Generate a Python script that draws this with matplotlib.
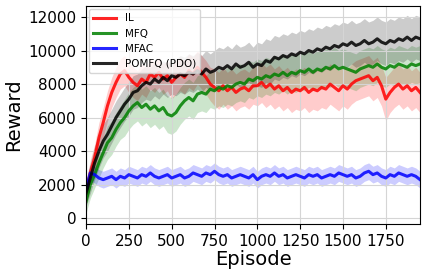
import matplotlib
matplotlib.use("Agg")
import matplotlib.pyplot as plt
import numpy as np

episodes = list(range(0, 1951, 25))

il_mean = [1500, 2700, 3600, 4800, 5700, 6700, 7500, 8100, 8600, 8800,
           8400, 8100, 7900, 8300, 8100, 8600, 8400, 8700, 8300, 8500,
           8100, 8400, 8600, 8400, 8800, 8600, 9000, 8700, 8400, 8000,
           7800, 7600, 7900, 7600, 7800, 7500, 7700, 7800, 7600, 7900,
           7900, 8100, 7800, 8000, 7700, 7900, 7600, 7800, 7500, 7700,
           7600, 7800, 7500, 7700, 7600, 7800, 7700, 8000, 7800, 7600,
           7900, 7700, 8000, 8200, 8300, 8400, 8500, 8200, 8400, 7900,
           7100, 7500, 7800, 8000, 7700, 7900, 7600, 7800, 7500]
il_std = [700, 800, 800, 900, 900, 900, 900, 900, 900, 900,
          900, 900, 900, 900, 900, 900, 900, 900, 900, 900,
          1000, 1000, 1000, 1000, 1000, 1000, 1000, 1000, 1000, 1000,
          1100, 1100, 1100, 1100, 1100, 1100, 1100, 1100, 1100, 1100,
          1200, 1200, 1200, 1200, 1200, 1200, 1200, 1200, 1200, 1200,
          1200, 1200, 1200, 1200, 1200, 1200, 1200, 1200, 1200, 1200,
          1200, 1200, 1200, 1200, 1200, 1200, 1200, 1200, 1200, 1200,
          1300, 1200, 1200, 1200, 1200, 1200, 1200, 1200, 1200]

mfq_mean = [1000, 2000, 2600, 3300, 3900, 4500, 4800, 5300, 5700, 6000,
            6400, 6700, 6900, 6600, 6800, 6500, 6700, 6400, 6600, 6200,
            6100, 6300, 6700, 7000, 7200, 7000, 7400, 7500, 7400, 7700,
            7600, 7800, 7700, 7900, 7800, 8000, 8100, 8000, 8300, 8200,
            8400, 8300, 8500, 8400, 8600, 8500, 8700, 8500, 8700, 8600,
            8800, 8700, 8900, 8700, 8900, 8800, 9000, 8900, 9100, 8900,
            9000, 8900, 8800, 8700, 8900, 9000, 9100, 9000, 9200, 9000,
            8900, 9100, 9000, 9200, 9100, 9000, 9200, 9100, 9200]
mfq_std = [700, 800, 800, 900, 900, 1000, 1000, 1000, 1000, 1100,
           1100, 1100, 1100, 1100, 1100, 1100, 1100, 1100, 1100, 1100,
           1100, 1100, 1100, 1100, 1100, 1100, 1100, 1100, 1100, 1100,
           1100, 1100, 1100, 1100, 1100, 1100, 1100, 1100, 1100, 1100,
           1100, 1100, 1100, 1100, 1100, 1100, 1100, 1100, 1100, 1100,
           1100, 1100, 1100, 1100, 1100, 1100, 1100, 1100, 1100, 1100,
           1100, 1100, 1100, 1100, 1100, 1100, 1100, 1100, 1100, 1100,
           1100, 1100, 1100, 1100, 1100, 1100, 1100, 1100, 1100]

mfac_mean = [1700, 2700, 2600, 2400, 2300, 2400, 2500, 2300, 2500, 2400,
             2600, 2500, 2400, 2600, 2500, 2700, 2500, 2400, 2500, 2600,
             2400, 2500, 2600, 2400, 2500, 2700, 2600, 2500, 2700, 2600,
             2800, 2600, 2500, 2600, 2400, 2500, 2600, 2500, 2400, 2600,
             2300, 2500, 2600, 2500, 2700, 2500, 2600, 2400, 2500, 2600,
             2500, 2400, 2600, 2500, 2600, 2400, 2500, 2600, 2500, 2700,
             2600, 2500, 2600, 2400, 2500, 2700, 2800, 2600, 2700, 2500,
             2400, 2600, 2500, 2700, 2600, 2500, 2600, 2500, 2300]
mfac_std = [600, 500, 500, 500, 500, 500, 500, 500, 500, 500,
            500, 500, 500, 500, 500, 500, 500, 500, 500, 500,
            500, 500, 500, 500, 500, 500, 500, 500, 500, 500,
            500, 500, 500, 500, 500, 500, 500, 500, 500, 500,
            500, 500, 500, 500, 500, 500, 500, 500, 500, 500,
            500, 500, 500, 500, 500, 500, 500, 500, 500, 500,
            500, 500, 500, 500, 500, 500, 500, 500, 500, 500,
            500, 500, 500, 500, 500, 500, 500, 500, 500]

pomfq_mean = [1500, 2400, 3300, 4000, 4600, 5000, 5500, 6000, 6400, 6800,
              7100, 7500, 7600, 7900, 8100, 8000, 8300, 8100, 8400, 8200,
              8500, 8400, 8600, 8500, 8700, 8600, 8800, 8600, 8900, 8700,
              8800, 9000, 8900, 9100, 8900, 9200, 9000, 9100, 9300, 9000,
              9200, 9100, 9400, 9300, 9600, 9500, 9700, 9600, 9800, 9700,
              9900, 9800, 10000, 9900, 10100, 10000, 10200, 10100, 10300, 10200,
              10400, 10300, 10500, 10300, 10400, 10600, 10400, 10500, 10700, 10500,
              10400, 10600, 10500, 10700, 10600, 10800, 10600, 10800, 10700]
pomfq_std = [800, 900, 1000, 1000, 1000, 1000, 1000, 1000, 1000, 1000,
             1000, 1000, 1000, 1000, 1000, 1000, 1000, 1000, 1000, 1000,
             1100, 1100, 1100, 1100, 1100, 1100, 1100, 1100, 1100, 1100,
             1200, 1200, 1200, 1200, 1200, 1200, 1200, 1200, 1200, 1200,
             1300, 1300, 1300, 1300, 1300, 1300, 1300, 1300, 1300, 1300,
             1300, 1300, 1300, 1300, 1300, 1300, 1300, 1300, 1300, 1300,
             1300, 1300, 1300, 1300, 1300, 1300, 1300, 1300, 1300, 1300,
             1300, 1300, 1300, 1300, 1300, 1300, 1300, 1300, 1300]

series = [("IL", il_mean, il_std, "red"),
          ("MFQ", mfq_mean, mfq_std, "green"),
          ("MFAC", mfac_mean, mfac_std, "blue"),
          ("POMFQ (PDO)", pomfq_mean, pomfq_std, "black")]

fig = plt.figure(figsize=(4.26, 2.76), dpi=100)
ax = fig.add_axes([0.202, 0.188, 0.784, 0.79])

x = np.array(episodes)
for name, mean, std, color in series:
    m = np.array(mean)
    s = np.array(std)
    ax.fill_between(x, m - s, m + s, color=color, alpha=0.2, linewidth=0)
    ax.plot(x, m, color=color, alpha=0.85, linewidth=2.2, label=name)

ax.set_xlim(0, 1950)
ax.set_ylim(-350, 12650)
ax.set_xticks([0, 250, 500, 750, 1000, 1250, 1500, 1750])
ax.set_yticks([0, 2000, 4000, 6000, 8000, 10000, 12000])
ax.grid(True, color="#d5d5d5", linewidth=0.8)
ax.tick_params(labelsize=11)
ax.set_xlabel("Episode", fontsize=14, labelpad=1)
ax.set_ylabel("Reward", fontsize=14, labelpad=4)
ax.legend(loc="upper left", fontsize=7.5, handlelength=2.2, borderaxespad=0.3)

fig.savefig("out.png", dpi=100)
